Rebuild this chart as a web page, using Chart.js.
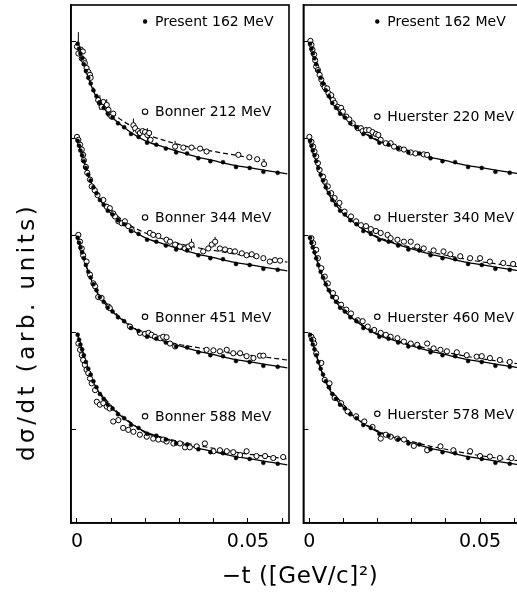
<!DOCTYPE html>
<html><head><meta charset="utf-8">
<script src="https://cdn.jsdelivr.net/npm/chart.js@4.4.0/dist/chart.umd.min.js"></script>
<style>
html,body{margin:0;padding:0;background:#fff;overflow:hidden;width:517px;height:597px;}
#wrap{position:relative;width:517px;height:597px;overflow:hidden;background:#fff;}
canvas{position:absolute;top:0;}
#cL{left:0;} #cR{left:290px;}
.ytitle{position:absolute;left:26px;top:332px;transform:translate(-50%,-50%) rotate(-90deg);font:23px "DejaVu Sans";letter-spacing:3.5px;white-space:nowrap;color:#000;}
.xtitle{position:absolute;left:300px;top:575px;transform:translate(-50%,-50%);font:23px "DejaVu Sans";letter-spacing:0.6px;white-space:nowrap;color:#000;}
</style></head>
<body><div id="wrap">
<canvas id="cL" width="300" height="597"></canvas>
<canvas id="cR" width="240" height="597"></canvas>
<div class="ytitle">dσ/dt (arb. units)</div>
<div class="xtitle">−t ([GeV/c]²)</div>
</div>
<script>
// ---- x tick labels ----
const xTickValues = [0, 0.01, 0.02, 0.03, 0.04, 0.05, 0.06];
const xTickLabels = ['0', '', '', '', '', '0.05', ''];
const yTickValues = [1, 2, 3, 4, 5];

// ---- fit to present data (solid line), shape relative to curve start (log10 units) ----
const fitT = [0,0.001,0.002,0.003,0.0045,0.006,0.008,0.010,0.013,0.016,0.020,0.025,0.030,0.035,0.040,0.045,0.050,0.055,0.0615];
const fitD = [0,-0.11,-0.23,-0.34,-0.48,-0.59,-0.69,-0.77,-0.86,-0.94,-1.02,-1.08,-1.135,-1.185,-1.225,-1.265,-1.295,-1.325,-1.36];

// ---- Present 162 MeV data, relative to curve start ----
const presentT = [0.0002,0.0006,0.0010,0.0015,0.0020,0.0026,0.0033,0.0040,0.0048,0.0057,0.0067,0.0078,0.0090,0.0104,0.0120,0.0138,0.0158,0.0180,0.0205,0.0232,0.0260,0.0290,0.0322,0.0355,0.0390,0.0427,0.0465,0.0505,0.0545,0.0587];
const presentD = [-0.02,-0.07,-0.12,-0.17,-0.23,-0.30,-0.37,-0.43,-0.50,-0.56,-0.63,-0.68,-0.74,-0.78,-0.84,-0.88,-0.95,-0.98,-1.04,-1.06,-1.10,-1.14,-1.15,-1.20,-1.23,-1.24,-1.29,-1.30,-1.34,-1.35];

// vertical offsets (decades) of the four comparisons in each panel
const leftOffsets = [5, 4, 3, 2];
const rightOffsets = [5, 4, 3, 2];

// ---- comparison data (open circles), [ -t, log10 dσ/dt ] ----
const bonner212 = [[0.0000,4.95],[0.0004,4.88],[0.0011,4.92],[0.0017,4.90],[0.0014,4.83],[0.0020,4.81],[0.0023,4.78],[0.0028,4.73],[0.0033,4.69],[0.0038,4.66],[0.0040,4.63],[0.0062,4.40],[0.0067,4.37],[0.0072,4.33],[0.0077,4.38],[0.0087,4.35],[0.0092,4.30],[0.0096,4.25],[0.0101,4.23],[0.0106,4.26],[0.0165,4.14],[0.0170,4.11],[0.0179,4.08],[0.0184,4.06],[0.0192,4.08],[0.0199,4.07],[0.0206,4.04],[0.0211,4.06],[0.0215,3.99],[0.0287,3.92],[0.0311,3.91],[0.0335,3.91],[0.0360,3.90],[0.0379,3.87],[0.0472,3.835],[0.0504,3.81],[0.0527,3.79],[0.0547,3.74]];
const bonner344 = [[0.0000,4.02],[0.0004,3.99],[0.0009,3.94],[0.0014,3.89],[0.0018,3.835],[0.0020,3.78],[0.0026,3.71],[0.0030,3.65],[0.0038,3.58],[0.0043,3.51],[0.0052,3.47],[0.0060,3.42],[0.0077,3.37],[0.0087,3.30],[0.0096,3.285],[0.0106,3.23],[0.0111,3.20],[0.0121,3.15],[0.0131,3.13],[0.0140,3.15],[0.0150,3.10],[0.0160,3.06],[0.0213,3.03],[0.0223,3.01],[0.0238,3.00],[0.0262,2.96],[0.0272,2.94],[0.0287,2.91],[0.0301,2.89],[0.0316,2.87],[0.0326,2.89],[0.0335,2.91],[0.0369,2.84],[0.0384,2.87],[0.0394,2.91],[0.0404,2.94],[0.0418,2.87],[0.0433,2.86],[0.0447,2.845],[0.0462,2.84],[0.0482,2.82],[0.0496,2.80],[0.0511,2.81],[0.0525,2.79],[0.0545,2.77],[0.0564,2.735],[0.0579,2.75],[0.0594,2.745]];
const bonner451 = [[0.0004,3.01],[0.0009,2.94],[0.0014,2.87],[0.0018,2.80],[0.0028,2.735],[0.0038,2.60],[0.0048,2.51],[0.0053,2.48],[0.0062,2.37],[0.0072,2.36],[0.0092,2.27],[0.0096,2.255],[0.0155,2.065],[0.0184,2.00],[0.0199,1.99],[0.0209,2.00],[0.0218,1.98],[0.0228,1.96],[0.0243,1.945],[0.0252,1.96],[0.0262,1.955],[0.0272,1.89],[0.0287,1.86],[0.0379,1.825],[0.0399,1.82],[0.0418,1.81],[0.0438,1.825],[0.0457,1.79],[0.0477,1.79],[0.0496,1.76],[0.0516,1.74],[0.0535,1.765],[0.0545,1.765]];
const bonner588 = [[0.0004,1.89],[0.0009,1.825],[0.0014,1.77],[0.0018,1.72],[0.0023,1.67],[0.0028,1.62],[0.0033,1.585],[0.0038,1.53],[0.0043,1.48],[0.0053,1.41],[0.0058,1.29],[0.0067,1.26],[0.0077,1.275],[0.0087,1.24],[0.0096,1.22],[0.0106,1.086],[0.0121,1.10],[0.0135,1.02],[0.0150,1.00],[0.0165,0.98],[0.0184,0.95],[0.0204,0.93],[0.0223,0.91],[0.0238,0.90],[0.0252,0.90],[0.0262,0.88],[0.0282,0.86],[0.0301,0.86],[0.0316,0.82],[0.0330,0.82],[0.0350,0.83],[0.0374,0.86],[0.0399,0.78],[0.0418,0.79],[0.0438,0.78],[0.0457,0.77],[0.0477,0.74],[0.0496,0.78],[0.0525,0.73],[0.0550,0.73],[0.0574,0.71],[0.0603,0.72]];
const huerster220 = [[0.0003,5.01],[0.0006,4.97],[0.0009,4.92],[0.0014,4.87],[0.0017,4.81],[0.0020,4.745],[0.0025,4.71],[0.0030,4.66],[0.0035,4.61],[0.0040,4.56],[0.0045,4.53],[0.0052,4.52],[0.0056,4.47],[0.0064,4.45],[0.0069,4.40],[0.0074,4.37],[0.0083,4.33],[0.0093,4.32],[0.0098,4.28],[0.0108,4.23],[0.0117,4.20],[0.0127,4.16],[0.0142,4.11],[0.0151,4.11],[0.0156,4.08],[0.0166,4.09],[0.0175,4.09],[0.0185,4.07],[0.0195,4.05],[0.0202,4.04],[0.0209,3.99],[0.0224,3.955],[0.0238,3.955],[0.0248,3.92],[0.0263,3.90],[0.0277,3.89],[0.0297,3.86],[0.0311,3.85],[0.0335,3.84],[0.0345,3.835]];
const huerster340 = [[0.0000,4.02],[0.0006,3.97],[0.0011,3.92],[0.0015,3.87],[0.0020,3.82],[0.0025,3.75],[0.0030,3.68],[0.0040,3.61],[0.0045,3.56],[0.0054,3.51],[0.0064,3.44],[0.0074,3.39],[0.0088,3.34],[0.0103,3.25],[0.0122,3.20],[0.0137,3.15],[0.0151,3.11],[0.0166,3.10],[0.0180,3.07],[0.0195,3.05],[0.0209,3.03],[0.0229,3.01],[0.0238,2.976],[0.0258,2.96],[0.0277,2.94],[0.0297,2.94],[0.0316,2.89],[0.0335,2.87],[0.0364,2.85],[0.0393,2.84],[0.0413,2.81],[0.0442,2.79],[0.0471,2.77],[0.0500,2.77],[0.0529,2.735],[0.0568,2.72],[0.0597,2.71]];
const huerster460 = [[0.0006,2.976],[0.0011,2.925],[0.0020,2.856],[0.0025,2.77],[0.0035,2.667],[0.0045,2.58],[0.0054,2.51],[0.0069,2.41],[0.0078,2.36],[0.0093,2.29],[0.0108,2.24],[0.0122,2.20],[0.0142,2.13],[0.0156,2.12],[0.0171,2.065],[0.0190,2.03],[0.0209,2.00],[0.0224,1.98],[0.0238,1.96],[0.0258,1.945],[0.0277,1.91],[0.0297,1.89],[0.0316,1.876],[0.0345,1.89],[0.0364,1.84],[0.0384,1.825],[0.0403,1.81],[0.0432,1.80],[0.0461,1.77],[0.0490,1.755],[0.0505,1.76],[0.0529,1.74],[0.0558,1.72],[0.0587,1.70]];
const huerster578 = [[0.0006,1.96],[0.0011,1.93],[0.0014,1.89],[0.0020,1.79],[0.0035,1.69],[0.0045,1.515],[0.0059,1.48],[0.0074,1.33],[0.0093,1.275],[0.0112,1.19],[0.0137,1.14],[0.0161,1.086],[0.0185,1.03],[0.0209,0.91],[0.0224,0.95],[0.0238,0.93],[0.0258,0.91],[0.0277,0.90],[0.0306,0.835],[0.0345,0.79],[0.0384,0.83],[0.0422,0.79],[0.0471,0.78],[0.0500,0.73],[0.0529,0.725],[0.0558,0.71],[0.0592,0.71]];

// ---- error bars on some comparison points: [ -t, low, high ] ----
const bonner212Err = [[0.0004,4.89,5.10],[0.0067,4.30,4.45],[0.0087,4.29,4.41],[0.0165,4.07,4.21],[0.0206,3.98,4.11],[0.0287,3.88,3.98]];
const bonner344Err = [[0.0335,2.85,2.97],[0.0404,2.89,2.99]];

// ---- fits to comparison data (dashed lines) ----
const dashT = [0,0.002,0.004,0.006,0.009,0.012,0.016,0.020,0.025,0.030,0.035,0.040,0.045,0.050,0.055,0.0615];
const dashBonner212 = [5,4.78,4.58,4.44,4.32,4.22,4.13,4.05,3.99,3.94,3.90,3.87,3.84,3.81,3.78];
const dashBonner344 = [4,3.78,3.58,3.44,3.31,3.20,3.10,3.03,2.97,2.92,2.88,2.85,2.82,2.79,2.76,2.73];
const dashBonner451 = [3,2.77,2.56,2.42,2.29,2.18,2.07,1.98,1.92,1.88,1.85,1.82,1.79,1.77,1.75,1.72];
const dashBonner588 = [2,1.77,1.56,1.42,1.29,1.18,1.07,0.97,0.92,0.88,0.84,0.81,0.78,0.75,0.73,0.70];
const dashHuerster220 = [5,4.78,4.58,4.43,4.30,4.19,4.07,3.99,3.92,3.87,3.82];
const dashHuerster340 = [4,3.78,3.57,3.43,3.30,3.19,3.07,2.99,2.93,2.88,2.835,2.80,2.765,2.735,2.71,2.68];
const dashHuerster460 = [3,2.78,2.57,2.43,2.30,2.19,2.07,1.99,1.93,1.88,1.835,1.80,1.765,1.735,1.71,1.68];
const dashHuerster578 = [2,1.78,1.57,1.43,1.30,1.19,1.07,0.99,0.93,0.88,0.835,0.80,0.765,0.735,0.71,0.68];

// ---- series names and label anchors ----
const presentName = 'Present 162 MeV';
const leftNames = ['Bonner 212 MeV', 'Bonner 344 MeV', 'Bonner 451 MeV', 'Bonner 588 MeV'];
const rightNames = ['Huerster 220 MeV', 'Huerster 340 MeV', 'Huerster 460 MeV', 'Huerster 578 MeV'];
const presentLabelV = 5.21;
const leftLabelV = [4.28, 3.19, 2.165, 1.14];
const rightLabelV = [4.23, 3.19, 2.165, 1.165];
const labelT = 0.0199;

Chart.defaults.font.family = '"DejaVu Sans", sans-serif';
Chart.defaults.color = '#000';

const framePlugin = {
  id: 'frame',
  afterDraw(chart) {
    const {ctx, chartArea: a} = chart;
    ctx.save();
    ctx.strokeStyle = '#000';
    ctx.lineWidth = 1.6;
    ctx.strokeRect(a.left, a.top, a.right - a.left, a.bottom - a.top);
    ctx.restore();
  }
};

const errPlugin = {
  id: 'errBars',
  beforeDatasetsDraw(chart, args, opts) {
    const {ctx, scales: {x, y}, chartArea: a} = chart;
    ctx.save();
    ctx.beginPath(); ctx.rect(a.left, a.top, a.right - a.left, a.bottom - a.top); ctx.clip();
    ctx.strokeStyle = '#000'; ctx.lineWidth = 1;
    (opts.bars || []).forEach(b => {
      const px = x.getPixelForValue(b[0]);
      ctx.beginPath();
      ctx.moveTo(px, y.getPixelForValue(b[1]));
      ctx.lineTo(px, y.getPixelForValue(b[2]));
      ctx.stroke();
    });
    ctx.restore();
  }
};

const labelPlugin = {
  id: 'seriesLabels',
  afterDatasetsDraw(chart, args, opts) {
    const {ctx, scales: {x, y}} = chart;
    ctx.save();
    ctx.font = '14px "DejaVu Sans"';
    ctx.textBaseline = 'middle';
    ctx.fillStyle = '#000';
    ctx.strokeStyle = '#000';
    (opts.items || []).forEach(it => {
      const px = x.getPixelForValue(it.t), py = y.getPixelForValue(it.v);
      ctx.beginPath();
      ctx.arc(px, py, it.filled ? 2.2 : 2.7, 0, 2 * Math.PI);
      if (it.filled) ctx.fill(); else { ctx.lineWidth = 1.1; ctx.stroke(); }
      ctx.fillText(it.text, px + 10, py + 1);
    });
    ctx.restore();
  }
};

function buildDatasets(offsets, openSets, dashSets) {
  const ds = [];
  offsets.forEach((off, i) => {
    ds.push({
      data: fitT.map((t, k) => ({x: t, y: off + fitD[k]})),
      showLine: true, borderColor: '#000', borderWidth: 1.3, pointRadius: 0,
      cubicInterpolationMode: 'monotone', order: 3
    });
    ds.push({
      data: dashSets[i].map((v, k) => ({x: dashT[k], y: v})),
      showLine: true, borderColor: '#000', borderWidth: 1.2, borderDash: [5, 3],
      pointRadius: 0, cubicInterpolationMode: 'monotone', order: 3
    });
    ds.push({
      data: presentT.map((t, k) => ({x: t, y: off + presentD[k]})),
      showLine: false, pointRadius: 2, pointBackgroundColor: '#000', pointBorderColor: '#000',
      pointBorderWidth: 0.5, order: 1
    });
    ds.push({
      data: openSets[i].map(p => ({x: p[0], y: p[1]})),
      showLine: false, pointRadius: 2.6, pointBackgroundColor: '#fff', pointBorderColor: '#000',
      pointBorderWidth: 1, order: 2
    });
  });
  return ds;
}

function makeChart(id, datasets, pad, labelItems, bars) {
  return new Chart(document.getElementById(id), {
    type: 'scatter',
    data: {datasets},
    options: {
      responsive: false, animation: false, devicePixelRatio: 1,
      layout: {padding: pad},
      plugins: {legend: {display: false}, tooltip: {enabled: false},
        seriesLabels: {items: labelItems}, errBars: {bars}},
      scales: {
        x: {
          type: 'linear', min: -0.00175, max: 0.062,
          afterBuildTicks: s => { s.ticks = xTickValues.map(v => ({value: v})); },
          afterFit: s => { s.height = 74; },
          ticks: {
            autoSkip: false, maxRotation: 0, padding: 13,
            font: {size: 19}, color: '#000',
            callback: (v, i) => xTickLabels[i]
          },
          grid: {drawOnChartArea: false, drawTicks: true, tickLength: -5, tickColor: '#000', tickWidth: 1},
          border: {display: true, color: '#000', width: 1.6}
        },
        y: {
          type: 'linear', min: 0.04, max: 5.38,
          afterBuildTicks: s => { s.ticks = yTickValues.map(v => ({value: v})); },
          afterFit: s => { s.width = 0; },
          ticks: {display: false},
          grid: {drawOnChartArea: false, drawTicks: true, tickLength: -5, tickColor: '#000', tickWidth: 1},
          border: {display: true, color: '#000', width: 1.6}
        }
      }
    },
    plugins: [errPlugin, labelPlugin, framePlugin]
  });
}

const leftItems = [{t: labelT, v: presentLabelV, text: presentName, filled: true}]
  .concat(leftNames.map((n, i) => ({t: labelT, v: leftLabelV[i], text: n, filled: false})));
const rightItems = [{t: labelT, v: presentLabelV, text: presentName, filled: true}]
  .concat(rightNames.map((n, i) => ({t: labelT, v: rightLabelV[i], text: n, filled: false})));

makeChart('cL', buildDatasets(leftOffsets, [bonner212, bonner344, bonner451, bonner588],
  [dashBonner212, dashBonner344, dashBonner451, dashBonner588]),
  {left: 71, top: 5, right: 11, bottom: 0}, leftItems, bonner212Err.concat(bonner344Err));
makeChart('cR', buildDatasets(rightOffsets, [huerster220, huerster340, huerster460, huerster578],
  [dashHuerster220, dashHuerster340, dashHuerster460, dashHuerster578]),
  {left: 12, top: 5, right: 9, bottom: 0}, rightItems, []);
</script>
</body></html>
